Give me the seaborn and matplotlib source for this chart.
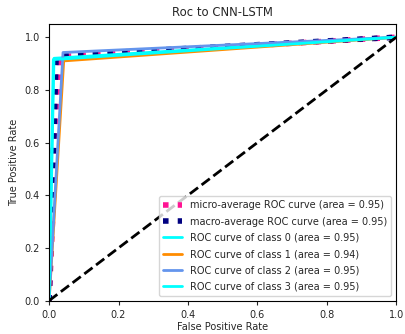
import matplotlib
matplotlib.use("Agg")
import matplotlib.pyplot as plt
import seaborn as sns

sns.set_style("white")
plt.rcParams['font.family'] = ['DejaVu Sans']
plt.rcParams['font.size'] = 7

# ROC curves
micro_fpr = [0.0, 0.0, 0.03, 1.0]
micro_tpr = [0.0, 0.0, 0.926, 1.0]
macro_fpr = [0.0, 0.02, 0.04, 1.0]
macro_tpr = [0.0, 0.92, 0.932, 1.0]

class_fpr = [[0.0, 0.014, 1.0],
             [0.0, 0.042, 1.0],
             [0.0, 0.04, 1.0],
             [0.0, 0.012, 1.0]]
class_tpr = [[0.0, 0.92, 1.0],
             [0.0, 0.91, 1.0],
             [0.0, 0.942, 1.0],
             [0.0, 0.915, 1.0]]
class_auc = [0.95, 0.94, 0.95, 0.95]
micro_auc = 0.95
macro_auc = 0.95
colors = ['aqua', 'darkorange', 'cornflowerblue', 'aqua']

fig = plt.figure(figsize=(4.06, 3.34), dpi=100)
ax = fig.add_axes([0.121, 0.1, 0.855, 0.828])

sns.lineplot(x=micro_fpr, y=micro_tpr, sort=False, estimator=None, ax=ax,
             color='deeppink', linestyle=':', linewidth=4,
             label='micro-average ROC curve (area = {0:0.2f})'.format(micro_auc))
sns.lineplot(x=macro_fpr, y=macro_tpr, sort=False, estimator=None, ax=ax,
             color='navy', linestyle=':', linewidth=4,
             label='macro-average ROC curve (area = {0:0.2f})'.format(macro_auc))
for i in range(4):
    sns.lineplot(x=class_fpr[i], y=class_tpr[i], sort=False, estimator=None, ax=ax,
                 color=colors[i], linewidth=2,
                 label='ROC curve of class {0} (area = {1:0.2f})'.format(i, class_auc[i]))

ax.plot([0, 1], [0, 1], 'k--', lw=2)
ax.set_xlim([0.0, 1.0])
ax.set_ylim([0.0, 1.05])
ax.set_xlabel('False Positive Rate', labelpad=2)
ax.set_ylabel('True Positive Rate')
ax.set_title('Roc to CNN-LSTM', fontsize=8.4)
ax.tick_params(axis='both', which='both', direction='out', length=3, left=True, bottom=True)
for s in ax.spines.values():
    s.set_color('black')
    s.set_linewidth(0.8)
ax.legend(loc='lower right', labelspacing=0.65)
fig.savefig('out.png', dpi=100)
